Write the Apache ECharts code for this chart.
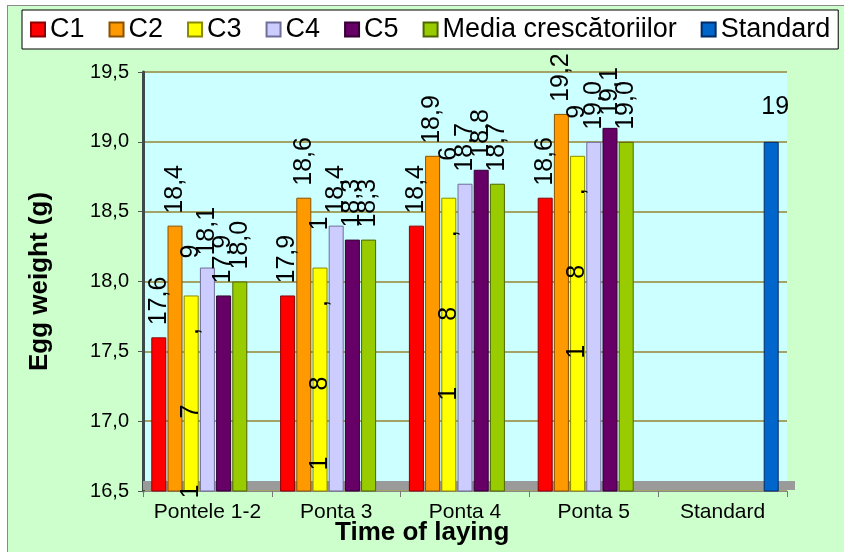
<!DOCTYPE html>
<html>
<head>
<meta charset="utf-8">
<script src="https://cdn.jsdelivr.net/npm/echarts@6/dist/echarts.min.js"></script>
<style>
  html, body { margin: 0; padding: 0; background: #ffffff; }
  #frame { position: absolute; left: 7px; top: 5px; width: 850px; height: 560px;
           background: #ccffcc; border: 1px solid #8a8a8a; box-sizing: border-box; }
  #chart { position: absolute; left: 0; top: 0; width: 844px; height: 552px; }
</style>
</head>
<body>
<div id="frame"></div>
<div id="chart"></div>
<script>
// Laying periods on the category axis
const categories = ['Pontele 1-2', 'Ponta 3', 'Ponta 4', 'Ponta 5', 'Standard'];

// Mean egg weight (g) per group and laying period
const c1 = [17.6, 17.9, 18.4, 18.6, null];
const c2 = [18.4, 18.6, 18.9, 19.2, null];
const c3 = [17.9, 18.1, 18.6, 18.9, null];
const c4 = [18.1, 18.4, 18.7, 19.0, null];
const c5 = [17.9, 18.3, 18.8, 19.1, null];
const media = [18.0, 18.3, 18.7, 19.0, null];
const standard = [null, null, null, null, 19];

// Value axis ticks
const yTicks = [16.5, 17.0, 17.5, 18.0, 18.5, 19.0, 19.5];

const FONT = '"Liberation Sans", Arial, sans-serif';
const fmt = v => v.toFixed(1).replace('.', ',');

function valueOf(p) {
  return Array.isArray(p.value) ? p.value[1] : p.value;
}

const upLabel = {
  show: true,
  position: 'top',
  distance: 12,
  rotate: 90,
  align: 'left',
  verticalAlign: 'middle',
  fontFamily: FONT,
  fontSize: 25,
  color: '#000',
  formatter: p => fmt(valueOf(p))
};

// C3 labels are spread out along the bar, one character per cell
const spreadLabel = {
  show: true,
  position: 'top',
  distance: 84,
  rotate: 90,
  align: 'right',
  verticalAlign: 'middle',
  fontFamily: FONT,
  fontSize: 25,
  color: '#000',
  formatter: p => fmt(valueOf(p)).split('').map(ch => '{c|' + ch + '}').join(''),
  rich: { c: { width: 80, align: 'center', fontSize: 25, fontFamily: FONT, color: '#000' } }
};

function barSeries(name, data, color, border, label) {
  return {
    name: name,
    type: 'bar',
    data: data,
    barWidth: 15,
    barGap: '8%',
    z: 3,
    itemStyle: { color: color, borderColor: border, borderWidth: 1 },
    label: label
  };
}

const chart = echarts.init(document.getElementById('chart'), null, { renderer: 'canvas' });

chart.setOption({
  backgroundColor: 'transparent',
  animation: false,
  textStyle: { fontFamily: FONT },
  title: {
    text: 'Time of laying',
    left: 335,
    top: 520,
    padding: 0,
    textStyle: { fontFamily: FONT, fontSize: 26, fontWeight: 'bold', color: '#000' }
  },
  legend: {
    top: 10,
    left: 22,
    padding: [6, 8, 6, 8],
    itemGap: 24,
    itemWidth: 14,
    itemHeight: 14,
    icon: 'rect',
    backgroundColor: '#ffffff',
    borderColor: '#000000',
    borderWidth: 1,
    textStyle: { fontFamily: FONT, fontSize: 27, color: '#000' },
    data: ['C1', 'C2', 'C3', 'C4', 'C5', 'Media crescătoriilor', 'Standard']
  },
  grid: {
    left: 143,
    right: 57,
    top: 72,
    bottom: 61,
    show: true,
    backgroundColor: '#ccffff',
    borderWidth: 0
  },
  graphic: [
    // floor of the plot
    { type: 'rect', z: 1, shape: { x: 143, y: 481, width: 652, height: 9 },
      style: { fill: '#9a9a9a' } }
  ],
  xAxis: {
    type: 'category',
    data: categories,
    axisLine: { show: true, lineStyle: { color: '#8a8a8a', width: 1 } },
    axisTick: { show: true, length: 6, lineStyle: { color: '#777' } },
    axisLabel: { interval: 0, fontFamily: FONT, fontSize: 21, color: '#000', margin: 11 }
  },
  yAxis: {
    type: 'value',
    min: yTicks[0],
    max: yTicks[yTicks.length - 1],
    interval: 0.5,
    name: 'Egg weight (g)',
    nameLocation: 'middle',
    nameGap: 90,
    nameTextStyle: { fontFamily: FONT, fontSize: 26, fontWeight: 'bold', color: '#000' },
    axisLine: { show: true, lineStyle: { color: '#3d4a4a', width: 3 } },
    axisTick: { show: true, length: 5, lineStyle: { color: '#555' } },
    axisLabel: { fontFamily: FONT, fontSize: 20, color: '#000', margin: 14, formatter: v => fmt(v) },
    splitLine: { show: true, lineStyle: { color: '#a3a366', width: 2 } }
  },
  series: [
    barSeries('C1', c1, '#ff0000', '#8b0000', upLabel),
    barSeries('C2', c2, '#ff9900', '#8a5200', upLabel),
    barSeries('C3', c3, '#ffff00', '#8a8a00', spreadLabel),
    barSeries('C4', c4, '#ccccff', '#6e6e99', upLabel),
    barSeries('C5', c5, '#660066', '#330033', upLabel),
    barSeries('Media crescătoriilor', media, '#99cc00', '#4d6600', upLabel),
    barSeries('Standard', standard, '#0066cc', '#002a66', {
      show: true,
      position: 'top',
      distance: 22,
      offset: [4, 0],
      fontFamily: FONT,
      fontSize: 25,
      color: '#000',
      formatter: p => String(valueOf(p))
    })
  ]
});
</script>
</body>
</html>
